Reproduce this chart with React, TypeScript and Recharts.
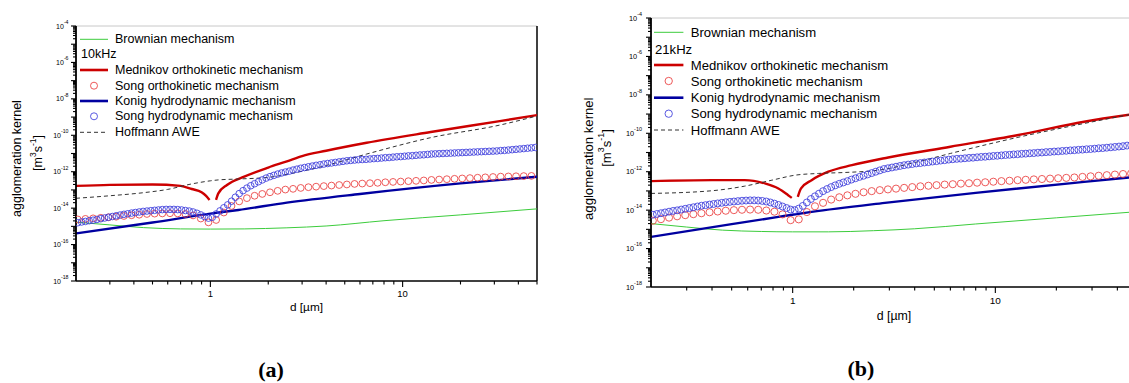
import React from "react";
import { ComposedChart, Line, Scatter, XAxis, YAxis, ReferenceLine } from "recharts";

const FONT = '"Liberation Sans", Arial, sans-serif';

// sampling of the Song curves, stored as log10(d / µm)
const ORTHO_LOG_D = [
  -0.69, -0.65, -0.61, -0.57, -0.53, -0.49, -0.45, -0.41, -0.37, -0.33,
  -0.29, -0.25, -0.21, -0.17, -0.13, -0.09, -0.05, -0.01, 0.03, 0.07,
  0.11, 0.15, 0.19, 0.23, 0.27, 0.31, 0.35, 0.39, 0.43, 0.47,
  0.51, 0.55, 0.59, 0.63, 0.67, 0.71, 0.75, 0.79, 0.83, 0.87,
  0.91, 0.95, 0.99, 1.03, 1.07, 1.11, 1.15, 1.19, 1.23, 1.27,
  1.31, 1.35, 1.39, 1.43, 1.47, 1.51, 1.55, 1.59, 1.63, 1.67,
];
const HYDRO_LOG_D = [
  -0.69, -0.67, -0.65, -0.63, -0.61, -0.59, -0.57, -0.55, -0.53, -0.51,
  -0.49, -0.47, -0.45, -0.43, -0.41, -0.39, -0.37, -0.35, -0.33, -0.31,
  -0.29, -0.27, -0.25, -0.23, -0.21, -0.19, -0.17, -0.15, -0.13, -0.11,
  -0.09, -0.07, -0.05, -0.03, -0.01, 0.01, 0.03, 0.05, 0.07, 0.09,
  0.11, 0.13, 0.15, 0.17, 0.19, 0.21, 0.23, 0.25, 0.27, 0.29,
  0.31, 0.33, 0.35, 0.37, 0.39, 0.41, 0.43, 0.45, 0.47, 0.49,
  0.51, 0.53, 0.55, 0.57, 0.59, 0.61, 0.63, 0.65, 0.67, 0.69,
  0.71, 0.73, 0.75, 0.77, 0.79, 0.81, 0.83, 0.85, 0.87, 0.89,
  0.91, 0.93, 0.95, 0.97, 0.99, 1.01, 1.03, 1.05, 1.07, 1.09,
  1.11, 1.13, 1.15, 1.17, 1.19, 1.21, 1.23, 1.25, 1.27, 1.29,
  1.31, 1.33, 1.35, 1.37, 1.39, 1.41, 1.43, 1.45, 1.47, 1.49,
  1.51, 1.53, 1.55, 1.57, 1.59, 1.61, 1.63, 1.65, 1.67, 1.69,
];

// all kernel values below are log10(kernel in m3/s)

// (a) 10 kHz
const A_BROWN_D = [0.2, 0.3, 0.45, 0.7, 1.0, 1.5, 2.5, 4, 8, 20, 50];
const A_BROWN = [-14.77, -14.92, -15.07, -15.14, -15.15, -15.14, -15.08, -14.98, -14.69, -14.37, -14.04];
const A_MEDN_D = [0.2, 0.3, 0.5, 0.7, 0.8, 0.9, 0.95, 0.99, 1.03, 1.07, 1.1, 1.22, 1.5, 2.0, 2.5, 3.0, 4.0, 6.5, 14, 32, 50];
const A_MEDN = [-12.78, -12.72, -12.7, -12.78, -12.95, -13.13, -13.33, -13.55, null, -13.55, -13.19, -12.73, -12.27, -11.77, -11.43, -11.14, -10.85, -10.41, -9.82, -9.22, -8.89];
const A_KONIG_D = [0.2, 0.5, 1.0, 1.4, 2.5, 6, 20, 50];
const A_KONIG = [-15.39, -14.79, -14.3, -14.1, -13.7, -13.22, -12.64, -12.28];
const A_HOFF_D = [0.2, 0.3, 0.45, 0.6, 0.8, 1.0, 1.1, 1.4, 2.0, 2.8, 4.0, 6.5, 14, 32, 50];
const A_HOFF = [-13.46, -13.32, -13.15, -12.97, -12.67, -12.5, -12.45, -12.4, -12.31, -12.04, -11.66, -11.03, -10.13, -9.44, -8.94];
const A_ORTHO = [
  -14.62, -14.59, -14.56, -14.53, -14.5, -14.47, -14.43, -14.39, -14.36, -14.32,
  -14.3, -14.29, -14.28, -14.29, -14.32, -14.4, -14.57, -14.78, -14.65, -14.24,
  -13.88, -13.63, -13.45, -13.32, -13.22, -13.13, -13.05, -12.98, -12.94, -12.89,
  -12.85, -12.82, -12.79, -12.76, -12.73, -12.7, -12.67, -12.65, -12.63, -12.61,
  -12.58, -12.56, -12.54, -12.52, -12.5, -12.48, -12.45, -12.43, -12.41, -12.39,
  -12.37, -12.35, -12.33, -12.31, -12.29, -12.27, -12.26, -12.25, -12.24, -12.23,
];
const A_HYDRO = [
  -14.8, -14.76, -14.73, -14.69, -14.66, -14.62, -14.58, -14.54, -14.5, -14.46,
  -14.42, -14.38, -14.34, -14.31, -14.27, -14.24, -14.21, -14.18, -14.16, -14.14,
  -14.12, -14.1, -14.08, -14.07, -14.07, -14.07, -14.08, -14.1, -14.13, -14.16,
  -14.21, -14.28, -14.37, -14.46, -14.55, -14.5, -14.32, -14.15, -13.98, -13.82,
  -13.62, -13.4, -13.2, -13.04, -12.9, -12.77, -12.66, -12.55, -12.45, -12.35,
  -12.27, -12.2, -12.13, -12.07, -12.02, -11.97, -11.91, -11.86, -11.81, -11.77,
  -11.73, -11.69, -11.65, -11.62, -11.58, -11.55, -11.52, -11.49, -11.46, -11.43,
  -11.4, -11.38, -11.36, -11.34, -11.33, -11.32, -11.3, -11.28, -11.27, -11.25,
  -11.23, -11.22, -11.2, -11.18, -11.17, -11.15, -11.13, -11.12, -11.1, -11.08,
  -11.07, -11.05, -11.03, -11.02, -11.01, -11.0, -10.99, -10.98, -10.97, -10.96,
  -10.95, -10.94, -10.93, -10.92, -10.91, -10.9, -10.89, -10.88, -10.87, -10.86,
  -10.84, -10.83, -10.81, -10.79, -10.77, -10.75, -10.73, -10.71, -10.69, -10.67,
];

// (b) 21 kHz
const B_BROWN_D = [0.2, 0.3, 0.45, 0.7, 1.0, 1.5, 2.5, 4, 8, 20, 50];
const B_BROWN = [-14.7, -14.88, -15.04, -15.11, -15.13, -15.13, -15.07, -14.97, -14.72, -14.4, -14.08];
const B_MEDN_D = [0.2, 0.4, 0.58, 0.73, 0.85, 0.95, 0.99, 1.02, 1.06, 1.1, 1.24, 1.5, 1.96, 2.96, 6.0, 12.8, 27.4, 50];
const B_MEDN = [-12.49, -12.44, -12.44, -12.61, -12.87, -13.22, -13.36, null, -13.31, -12.87, -12.44, -12.0, -11.66, -11.26, -10.7, -10.1, -9.4, -8.98];
const B_KONIG_D = [0.2, 0.5, 0.85, 1.24, 2.85, 8, 27.4, 50];
const B_KONIG = [-15.39, -14.73, -14.35, -14.09, -13.62, -13.1, -12.53, -12.26];
const B_HOFF_D = [0.2, 0.4, 0.58, 0.79, 1.03, 1.34, 1.81, 2.65, 4.12, 6.0, 12.8, 27.4, 50];
const B_HOFF = [-13.13, -12.99, -12.75, -12.44, -12.18, -12.09, -12.04, -11.92, -11.49, -11.05, -10.22, -9.49, -8.95];
const B_ORTHO = [
  -14.55, -14.47, -14.39, -14.32, -14.26, -14.21, -14.16, -14.11, -14.07, -14.03,
  -14.0, -13.98, -13.97, -13.98, -14.02, -14.08, -14.22, -14.52, -14.48, -14.1,
  -13.8, -13.62, -13.45, -13.33, -13.23, -13.15, -13.07, -13.01, -12.96, -12.92,
  -12.88, -12.84, -12.8, -12.76, -12.73, -12.7, -12.67, -12.65, -12.62, -12.6,
  -12.57, -12.55, -12.52, -12.49, -12.47, -12.44, -12.42, -12.4, -12.38, -12.36,
  -12.34, -12.32, -12.3, -12.27, -12.24, -12.21, -12.18, -12.15, -12.12, -12.09,
];
const B_HYDRO = [
  -14.24, -14.2, -14.16, -14.12, -14.08, -14.04, -14.01, -13.97, -13.93, -13.89,
  -13.85, -13.81, -13.77, -13.74, -13.71, -13.68, -13.65, -13.62, -13.59, -13.57,
  -13.55, -13.53, -13.51, -13.5, -13.49, -13.49, -13.5, -13.52, -13.55, -13.6,
  -13.66, -13.73, -13.81, -13.89, -13.97, -14.0, -13.92, -13.78, -13.6, -13.42,
  -13.28, -13.14, -13.01, -12.9, -12.8, -12.71, -12.63, -12.56, -12.49, -12.41,
  -12.34, -12.27, -12.21, -12.14, -12.07, -12.0, -11.93, -11.86, -11.82, -11.78,
  -11.74, -11.7, -11.66, -11.63, -11.6, -11.57, -11.55, -11.52, -11.5, -11.47,
  -11.45, -11.42, -11.4, -11.37, -11.35, -11.33, -11.32, -11.3, -11.28, -11.27,
  -11.25, -11.23, -11.22, -11.2, -11.18, -11.17, -11.15, -11.13, -11.12, -11.1,
  -11.09, -11.07, -11.06, -11.04, -11.03, -11.01, -11.0, -10.98, -10.97, -10.95,
  -10.94, -10.92, -10.91, -10.89, -10.88, -10.86, -10.85, -10.83, -10.82, -10.8,
  -10.78, -10.77, -10.75, -10.73, -10.71, -10.69, -10.67, -10.64, -10.62, -10.6,
];

const LEGEND = [
  "Brownian mechanism",
  "Mednikov orthokinetic mechanism",
  "Song orthokinetic mechanism",
  "Konig hydrodynamic mechanism",
  "Song hydrodynamic mechanism",
  "Hoffmann AWE",
];

const Y_DECADES = [-18, -17, -16, -15, -14, -13, -12, -11, -10, -9, -8, -7, -6, -5, -4];
const Y_LABELED = [-18, -16, -14, -12, -10, -8, -6, -4];
const X_TICKS = [0.3, 0.4, 0.5, 0.6, 0.7, 0.8, 0.9, 1, 2, 3, 4, 5, 6, 7, 8, 9, 10, 20, 30, 40, 50];
const X_LABELED = [1, 10];

const C = {
  brown: "#3ccc3c",
  medn: "#cc0000",
  ortho: "#ea3c3c",
  konig: "#0000a0",
  hydro: "#3c3cdc",
  hoff: "#333333",
};

const yTicks: number[] = [];
Y_DECADES.forEach((e) => {
  yTicks.push(Math.pow(10, e));
  if (e < -4) for (let m = 2; m <= 9; m++) yTicks.push(m * Math.pow(10, e));
});

const linePts = (ds: number[], vs: (number | null)[]) =>
  ds.map((d, i) => ({ x: d, y: vs[i] == null ? null : Math.pow(10, vs[i] as number) }));
const gridPts = (lx: number[], vs: number[]) =>
  lx.map((l, i) => ({ x: Math.pow(10, l), y: Math.pow(10, vs[i]) }));

const makeYTick = (s: number, gap: number) => (props: any) => {
  const { x, y, payload } = props;
  const e = Math.log10(payload.value);
  const exp = Math.round(e);
  const major = Math.abs(e - exp) < 1e-6;
  return (
    <g>
      <line x1={x} x2={x - (major ? 5 : 3)} y1={y} y2={y} stroke="#000" strokeWidth={1.1} />
      {major && Y_LABELED.includes(exp) && (
        <text x={x - gap} y={y + 2.5 * s} textAnchor="end" fontFamily={FONT} fontSize={7 * s} fill="#000">
          10
          <tspan dy={-4.5 * s} fontSize={5.2 * s}>
            {exp}
          </tspan>
        </text>
      )}
    </g>
  );
};

const makeXTick = (s: number) => (props: any) => {
  const { x, y, payload } = props;
  const major = X_LABELED.includes(payload.value);
  return (
    <g>
      <line x1={x} x2={x} y1={y} y2={y + (major ? 6 : 3.5)} stroke="#000" strokeWidth={1.1} />
      {major && (
        <text x={x} y={y + 16 * s} textAnchor="middle" fontFamily={FONT} fontSize={9.5 * s} fill="#000">
          {payload.value}
        </text>
      )}
    </g>
  );
};

const circle = (color: string, r: number) => (props: any) =>
  props.cx == null ? <g /> : <circle cx={props.cx} cy={props.cy} r={r} fill="none" stroke={color} strokeWidth={0.85} />;

type PanelProps = {
  left: number;
  width: number;
  margin: { top: number; right: number; bottom: number; left: number };
  s: number;
  gap: number;
  rightFrame: boolean;
  brown: any[];
  medn: any[];
  ortho: any[];
  konig: any[];
  hydro: any[];
  hoff: any[];
};

function Panel(p: PanelProps) {
  return (
    <div style={{ position: "absolute", left: p.left, top: 0 }}>
      <ComposedChart width={p.width} height={320} margin={p.margin}>
        <XAxis
          dataKey="x"
          type="number"
          scale="log"
          domain={[0.2, 50]}
          allowDataOverflow
          ticks={X_TICKS}
          interval={0}
          tickSize={0}
          tickMargin={0}
          tickLine={false}
          tick={makeXTick(p.s)}
          height={20}
          axisLine={{ stroke: "#000", strokeWidth: 1.6 }}
        />
        <YAxis
          dataKey="y"
          type="number"
          scale="log"
          domain={[1e-18, 1e-4]}
          allowDataOverflow
          ticks={yTicks}
          interval={0}
          tickSize={0}
          tickMargin={0}
          tickLine={false}
          tick={makeYTick(p.s, p.gap)}
          width={40}
          axisLine={{ stroke: "#000", strokeWidth: 1.8 }}
        />
        <ReferenceLine y={1e-4} stroke="#c8c8c8" strokeWidth={1} />
        {p.rightFrame && <ReferenceLine x={50} stroke="#000" strokeWidth={1.5} />}
        <Line data={p.brown} dataKey="y" type="monotone" stroke={C.brown} strokeWidth={1} dot={false} activeDot={false} isAnimationActive={false} />
        <Line data={p.medn} dataKey="y" type="monotone" stroke={C.medn} strokeWidth={2.4} dot={false} activeDot={false} isAnimationActive={false} />
        <Scatter data={p.ortho} dataKey="y" shape={circle(C.ortho, 3.4 * p.s)} isAnimationActive={false} />
        <Line data={p.konig} dataKey="y" type="monotone" stroke={C.konig} strokeWidth={2.4} dot={false} activeDot={false} isAnimationActive={false} />
        <Scatter data={p.hydro} dataKey="y" shape={circle(C.hydro, 3.3 * p.s)} isAnimationActive={false} />
        <Line data={p.hoff} dataKey="y" type="monotone" stroke={C.hoff} strokeWidth={1} strokeDasharray="4 3" dot={false} activeDot={false} isAnimationActive={false} />
      </ComposedChart>
    </div>
  );
}

function Legend({ x0, rows, s, freq }: { x0: number; rows: number[]; s: number; freq: string }) {
  const fs = 12.5 * s;
  const symL = x0;
  const symR = x0 + 28 * s;
  const mid = (symL + symR) / 2;
  const tx = x0 + 35 * s;
  const item = (i: number, y: number) => {
    const label = LEGEND[i];
    let sym: React.ReactNode = null;
    if (i === 0) sym = <line x1={symL} x2={symR} y1={y} y2={y} stroke={C.brown} strokeWidth={1} />;
    if (i === 1) sym = <line x1={symL} x2={symR} y1={y} y2={y} stroke={C.medn} strokeWidth={2.6} />;
    if (i === 2) sym = <circle cx={mid} cy={y} r={3.5 * s} fill="none" stroke={C.ortho} strokeWidth={0.85} />;
    if (i === 3) sym = <line x1={symL} x2={symR} y1={y} y2={y} stroke={C.konig} strokeWidth={2.6} />;
    if (i === 4) sym = <circle cx={mid} cy={y} r={3.5 * s} fill="none" stroke={C.hydro} strokeWidth={0.85} />;
    if (i === 5) sym = <line x1={symL} x2={symR} y1={y} y2={y} stroke={C.hoff} strokeWidth={1} strokeDasharray="4 3" />;
    return (
      <g key={label}>
        {sym}
        <text x={tx} y={y} dominantBaseline="central" fontFamily={FONT} fontSize={fs} fill="#000">
          {label}
        </text>
      </g>
    );
  };
  return (
    <g>
      {item(0, rows[0])}
      <text x={x0 + 1} y={rows[1]} dominantBaseline="central" fontFamily={FONT} fontSize={fs} fill="#000">
        {freq}
      </text>
      {[1, 2, 3, 4, 5].map((i) => item(i, rows[i + 1]))}
    </g>
  );
}

function AxisTitles({ l1, l2, xt, s }: { l1: [number, number]; l2: [number, number]; xt: [number, number]; s: number }) {
  const fs = 12.5 * s;
  return (
    <g fontFamily={FONT} fill="#000">
      <text transform={`translate(${l1[0]},${l1[1]}) rotate(-90)`} textAnchor="middle" dominantBaseline="central" fontSize={fs}>
        agglomeration kernel
      </text>
      <text transform={`translate(${l2[0]},${l2[1]}) rotate(-90)`} textAnchor="middle" dominantBaseline="central" fontSize={fs}>
        [m
        <tspan dy={-5 * s} fontSize={8.5 * s}>3</tspan>
        <tspan dy={5 * s}>s</tspan>
        <tspan dy={-5 * s} fontSize={8.5 * s}>-1</tspan>
        <tspan dy={5 * s}>]</tspan>
      </text>
      <text x={xt[0]} y={xt[1]} textAnchor="middle" fontSize={11.8 * s}>
        d [µm]
      </text>
    </g>
  );
}

export default function App() {
  return (
    <div style={{ position: "absolute", left: 0, top: 0, width: 1129, height: 383, overflow: "hidden", background: "#fff" }}>
      <Panel
        left={0}
        width={560}
        margin={{ top: 26, right: 23, bottom: 19, left: 36 }}
        s={1}
        gap={7.5}
        rightFrame
        brown={linePts(A_BROWN_D, A_BROWN)}
        medn={linePts(A_MEDN_D, A_MEDN)}
        ortho={gridPts(ORTHO_LOG_D, A_ORTHO)}
        konig={linePts(A_KONIG_D, A_KONIG)}
        hydro={gridPts(HYDRO_LOG_D, A_HYDRO)}
        hoff={linePts(A_HOFF_D, A_HOFF)}
      />
      <Panel
        left={565}
        width={600}
        margin={{ top: 18, right: 28, bottom: 13, left: 46 }}
        s={1.05}
        gap={9}
        rightFrame={false}
        brown={linePts(B_BROWN_D, B_BROWN)}
        medn={linePts(B_MEDN_D, B_MEDN)}
        ortho={gridPts(ORTHO_LOG_D, B_ORTHO)}
        konig={linePts(B_KONIG_D, B_KONIG)}
        hydro={gridPts(HYDRO_LOG_D, B_HYDRO)}
        hoff={linePts(B_HOFF_D, B_HOFF)}
      />
      <svg width={1129} height={383} style={{ position: "absolute", left: 0, top: 0, pointerEvents: "none" }}>
        <Legend x0={80} rows={[39.3, 54.3, 70, 85.7, 101, 116.3, 132.3]} s={1} freq="10kHz" />
        <Legend x0={654} rows={[32.3, 49.3, 65, 81, 97.7, 113.7, 130]} s={1.05} freq="21kHz" />
        <AxisTitles l1={[17, 158.5]} l2={[38, 153]} xt={[306.5, 311]} s={1} />
        <AxisTitles l1={[588, 158.7]} l2={[606, 148]} xt={[894, 320]} s={1.05} />
        <text x={271} y={377} textAnchor="middle" fontFamily='"Liberation Serif", serif' fontWeight="bold" fontSize={22}>
          (a)
        </text>
        <text x={861} y={376} textAnchor="middle" fontFamily='"Liberation Serif", serif' fontWeight="bold" fontSize={22}>
          (b)
        </text>
      </svg>
    </div>
  );
}
